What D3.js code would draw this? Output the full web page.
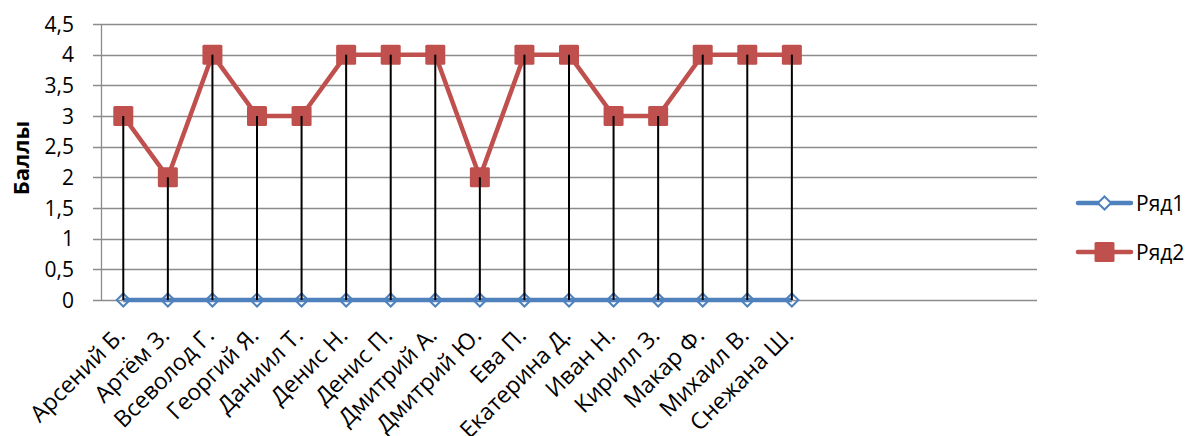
<!DOCTYPE html>
<html>
<head>
<meta charset="utf-8">
<script src="https://cdn.jsdelivr.net/npm/d3@7"></script>
<style>
  html, body { margin: 0; padding: 0; background: #fff; }
  svg { display: block; font-family: "Open Sans", sans-serif; }
</style>
</head>
<body>
<svg id="chart" width="1192" height="436"></svg>
<script>
// Students and their scores
const categories = [
  "Арсений Б.", "Артём З.", "Всеволод Г.", "Георгий Я.", "Даниил Т.",
  "Денис Н.", "Денис П.", "Дмитрий А.", "Дмитрий Ю.", "Ева П.",
  "Екатерина Д.", "Иван Н.", "Кирилл З.", "Макар Ф.", "Михаил В.", "Снежана Ш."
];
// Empty slots that follow the named students on the category axis
const emptySlots = ["", "", "", "", ""];
const series1 = [0, 0, 0, 0, 0, 0, 0, 0, 0, 0, 0, 0, 0, 0, 0, 0];
const series2 = [3, 2, 4, 3, 3, 4, 4, 4, 2, 4, 4, 3, 3, 4, 4, 4];
const seriesNames = ["Ряд1", "Ряд2"];
const yTicks = [0, 0.5, 1, 1.5, 2, 2.5, 3, 3.5, 4, 4.5];
const yTitle = "Баллы";

const svg = d3.select("#chart");
const plot = { left: 101, right: 1037, top: 24, bottom: 300 };

const slotKeys = categories.map((c, i) => "c" + i).concat(emptySlots.map((c, i) => "e" + i));
const x = d3.scaleBand().domain(slotKeys).range([plot.left, plot.right]);
const cx = i => x("c" + i) + x.bandwidth() / 2;
const y = d3.scaleLinear().domain([0, 4.5]).range([plot.bottom, plot.top]);

const fmt = v => String(v).replace(".", ",");

// Horizontal gridlines
svg.append("g")
  .selectAll("line")
  .data(yTicks)
  .join("line")
  .attr("x1", plot.left - 8)
  .attr("x2", plot.right)
  .attr("y1", d => Math.round(y(d)) + 0.5)
  .attr("y2", d => Math.round(y(d)) + 0.5)
  .attr("stroke", "#8c8c8c")
  .attr("stroke-width", 1.3);

// Value axis line
svg.append("line")
  .attr("x1", plot.left + 0.5).attr("x2", plot.left + 0.5)
  .attr("y1", plot.top).attr("y2", plot.bottom)
  .attr("stroke", "#8c8c8c").attr("stroke-width", 1.3);

// Value axis labels
svg.append("g")
  .selectAll("text")
  .data(yTicks)
  .join("text")
  .attr("x", plot.left - 27)
  .attr("y", d => y(d))
  .attr("dy", "0.36em")
  .attr("text-anchor", "end")
  .attr("font-size", 21)
  .attr("fill", "#000")
  .text(fmt);

// Axis title
svg.append("text")
  .attr("transform", `translate(29, 158) rotate(-90)`)
  .attr("text-anchor", "middle")
  .attr("font-size", 22)
  .attr("font-weight", "bold")
  .text(yTitle);

// Category labels
svg.append("g")
  .selectAll("text")
  .data(categories)
  .join("text")
  .attr("transform", (d, i) => `translate(${cx(i) + 3}, ${plot.bottom + 37}) rotate(-45)`)
  .attr("text-anchor", "end")
  .attr("font-size", 23)
  .text(d => d);

const line = d3.line().x((d, i) => cx(i)).y(d => y(d));

// Series lines
svg.append("path")
  .datum(series1)
  .attr("d", line)
  .attr("fill", "none")
  .attr("stroke", "#4F81BD")
  .attr("stroke-width", 4.5);

svg.append("path")
  .datum(series2)
  .attr("d", line)
  .attr("fill", "none")
  .attr("stroke", "#C0504D")
  .attr("stroke-width", 4.5)
  .attr("stroke-linejoin", "round");

// Markers
const diamond = d3.symbol().type(d3.symbolDiamond2).size(110);
svg.append("g")
  .selectAll("path")
  .data(series1)
  .join("path")
  .attr("transform", (d, i) => `translate(${cx(i)}, ${y(d)})`)
  .attr("d", diamond)
  .attr("fill", "none")
  .attr("stroke", "#4F81BD")
  .attr("stroke-width", 2);

svg.append("g")
  .selectAll("rect")
  .data(series2)
  .join("rect")
  .attr("x", (d, i) => cx(i) - 10)
  .attr("y", d => y(d) - 10)
  .attr("width", 20)
  .attr("height", 20)
  .attr("rx", 1.5)
  .attr("fill", "#C0504D");

// Drop lines from each score down to the baseline series
svg.append("g")
  .selectAll("line")
  .data(series2)
  .join("line")
  .attr("x1", (d, i) => cx(i))
  .attr("x2", (d, i) => cx(i))
  .attr("y1", d => y(d))
  .attr("y2", (d, i) => y(series1[i]))
  .attr("stroke", "#000")
  .attr("stroke-width", 2);

// Legend
const legend = svg.append("g");
const legendRows = [
  { name: seriesNames[0], color: "#4F81BD", y: 203, type: "diamond" },
  { name: seriesNames[1], color: "#C0504D", y: 252, type: "square" }
];
legendRows.forEach(r => {
  legend.append("line")
    .attr("x1", 1078).attr("x2", 1131)
    .attr("y1", r.y).attr("y2", r.y)
    .attr("stroke", r.color).attr("stroke-width", 4.5)
    .attr("stroke-linecap", "round");
  if (r.type === "diamond") {
    legend.append("path")
      .attr("transform", `translate(1104.5, ${r.y})`)
      .attr("d", diamond)
      .attr("fill", "#fff")
      .attr("stroke", r.color).attr("stroke-width", 2);
  } else {
    legend.append("rect")
      .attr("x", 1094.5).attr("y", r.y - 10)
      .attr("width", 20).attr("height", 20)
      .attr("rx", 1.5)
      .attr("fill", r.color);
  }
  legend.append("text")
    .attr("x", 1136).attr("y", r.y)
    .attr("dy", "0.36em")
    .attr("font-size", 21)
    .text(r.name);
});
</script>
</body>
</html>
